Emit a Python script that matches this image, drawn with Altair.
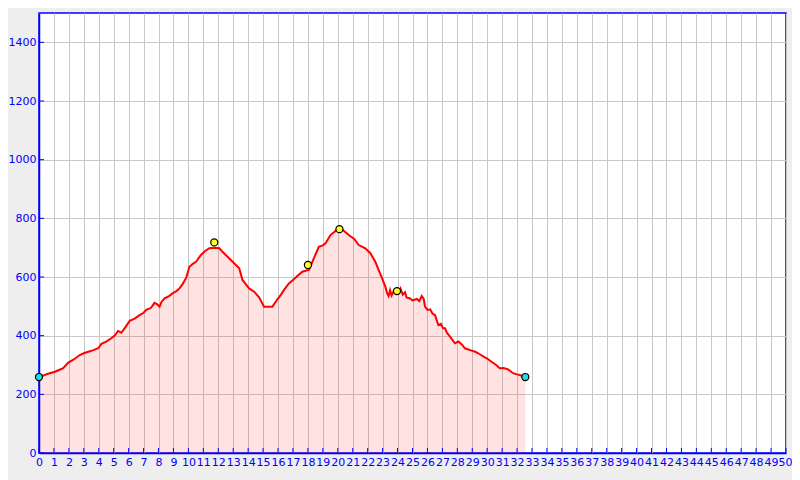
import altair as alt
import pandas as pd

# Elevation profile (km, metres)
km = [0, 0.29, 0.6, 1.07, 1.3, 1.62, 1.96, 2.3, 2.73, 3.0, 3.29, 3.6, 3.96, 4.18, 4.5,
      4.84, 5.1, 5.29, 5.51, 5.8, 6.07, 6.4, 6.73, 7.0, 7.18, 7.5, 7.73, 7.9, 8.07, 8.2,
      8.4, 8.7, 8.96, 9.2, 9.4, 9.6, 9.84, 10.07, 10.3, 10.51, 10.84, 11.1, 11.4, 11.73,
      12.07, 12.3, 12.62, 12.96, 13.2, 13.4, 13.62, 13.85, 14.07, 14.4, 14.73, 15.07,
      15.62, 15.96, 16.2, 16.4, 16.73, 17.0, 17.18, 17.62, 17.9, 18.07, 18.2, 18.4, 18.73,
      19.0, 19.18, 19.51, 19.8, 20.11, 20.4, 20.73, 21.1, 21.4, 21.84, 22.18, 22.51, 22.73,
      22.96, 23.18, 23.3, 23.4, 23.5, 23.6, 23.73, 23.96, 24.1, 24.2, 24.35, 24.5, 24.6,
      24.84, 25.0, 25.29, 25.45, 25.62, 25.75, 25.84, 26.0, 26.18, 26.35, 26.51, 26.73,
      26.9, 27.05, 27.18, 27.3, 27.51, 27.84, 28.07, 28.3, 28.51, 28.96, 29.2, 29.4, 29.84,
      30.0, 30.29, 30.6, 30.84, 31.1, 31.4, 31.73, 32.0, 32.18, 32.35, 32.55]
elev = [259, 264, 270, 277, 282, 289, 308, 318, 334, 340, 345, 350, 357, 372, 380,
        391, 402, 416, 410, 430, 451, 458, 470, 478, 488, 495, 512, 508, 499, 515,
        527, 535, 545, 552, 561, 575, 596, 635, 645, 652, 675, 688, 698, 700,
        698, 685, 669, 652, 640, 630, 590, 575, 561, 550, 531, 499,
        499, 524, 540, 556, 578, 590, 598, 618, 622, 624, 640, 664, 703,
        708, 715, 743, 755, 770, 758, 743, 730, 709, 698, 681, 652, 624,
        596, 567, 545, 535, 555, 537, 550, 548, 545, 560, 540, 548, 530,
        527, 520, 525, 518, 535, 525, 499, 488, 490, 475, 470, 436,
        440, 425, 425, 410, 397, 374, 380, 370, 357, 349, 345, 340, 326,
        322, 311, 300, 289, 290, 285, 272, 268, 266, 262, 260]

# Markers
marker_km = [0, 32.55, 11.73, 18.0, 20.11, 23.96]
marker_elev = [259, 259, 718, 641, 763, 552]
marker_kind = ["end", "end", "summit", "summit", "summit", "summit"]

# Axis ticks / labels
x_ticks = list(range(0, 51))
y_ticks = [0, 200, 400, 600, 800, 1000, 1200, 1400]

BLUE = "#0000ff"

profile = pd.DataFrame({"km": km, "elev": elev})
markers = pd.DataFrame({"km": marker_km, "elev": marker_elev, "kind": marker_kind})
xt = pd.DataFrame({"km": x_ticks})
yt = pd.DataFrame({"elev": y_ticks})

xscale = alt.Scale(domain=[0, 50], nice=False, zero=False)
yscale = alt.Scale(domain=[0, 1500], nice=False)

xaxis = alt.Axis(values=x_ticks, title=None, grid=True, ticks=False, labelOverlap=False,
                 labelPadding=3, labelFlush=False, format="d",
                 labelOffset={"condition": {"test": "datum.value == 50", "value": -1},
                              "value": 0})
yaxis = alt.Axis(values=y_ticks, title=None, grid=True, ticks=False, labelPadding=3,
                 format="d")

X = alt.X("km:Q", scale=xscale, axis=xaxis)
Y = alt.Y("elev:Q", scale=yscale, axis=yaxis)

base = alt.Chart(profile)

area = base.mark_area(color="red", opacity=0.11).encode(x=X, y=Y)

line = base.mark_line(color="red", strokeWidth=2).encode(x=X, y=Y)

pts = alt.Chart(markers).mark_point(filled=True, size=50, stroke="black",
                                     strokeWidth=1.2, opacity=1).encode(
    x=X,
    y=Y,
    fill=alt.Fill("kind:N", scale=alt.Scale(domain=["end", "summit"],
                                              range=["#22dddd", "#ffff22"]), legend=None),
)

xtick_rules = alt.Chart(xt).mark_rule(color=BLUE, strokeWidth=1).encode(
    x=X,
    y=alt.value(440),
    y2=alt.value(435),
)
ytick_rules = alt.Chart(yt).mark_rule(color=BLUE, strokeWidth=1).encode(
    y=Y,
    x=alt.value(0),
    x2=alt.value(5),
)

chart = alt.layer(area, line, xtick_rules, ytick_rules, pts).properties(
    width=747,
    height=440,
    autosize=alt.AutoSizeParams(type="none"),
    padding={"left": 31, "top": 5, "right": 6, "bottom": 27},
    background="#eeeeee",
).configure_view(
    stroke=BLUE, strokeWidth=1.5, fill="white"
).configure_axis(
    labelFont="DejaVu Sans",
    labelFontSize=11,
    labelColor=BLUE,
    domainColor=BLUE,
    domainWidth=1.5,
    gridColor="#c8c8c8",
    gridWidth=1,
    gridOpacity=1,
)

chart.save("out.html", embed_options={"renderer": "svg", "actions": False})
